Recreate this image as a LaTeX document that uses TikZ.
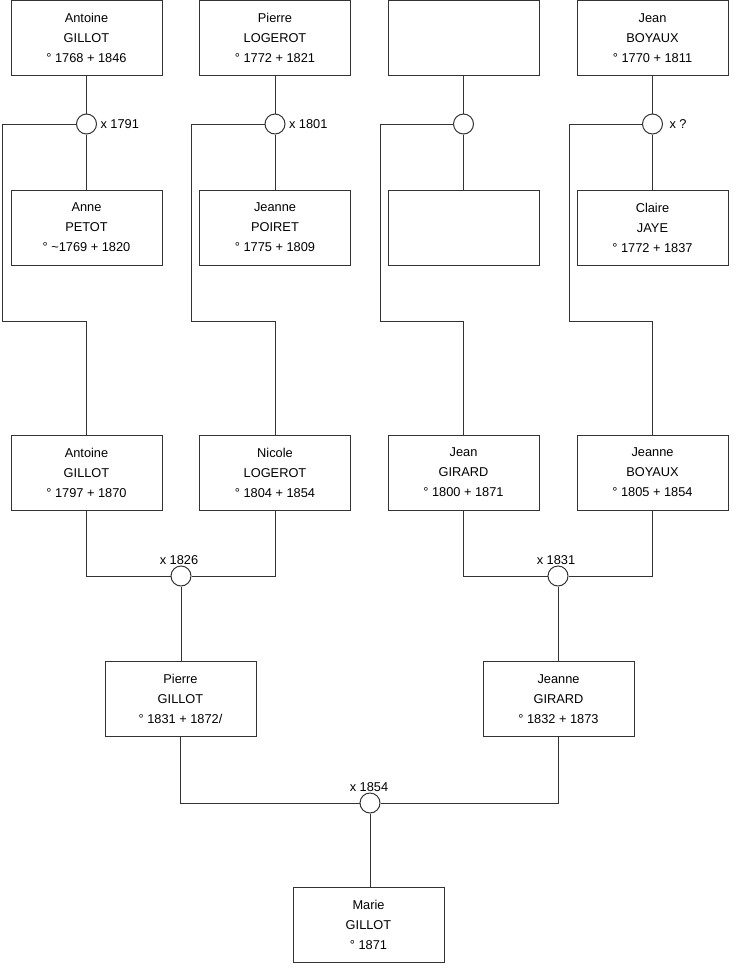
\documentclass[tikz,border=0pt]{standalone}
\usepackage{fontspec}
\setmainfont{Liberation Sans}
\usetikzlibrary{positioning,calc}
\definecolor{linegray}{HTML}{333333}

\tikzset{
  person/.style={draw=linegray, fill=white, rectangle, minimum width=151pt,
    minimum height=75pt, align=center, inner sep=0pt,
    font=\fontsize{12.8}{20}\selectfont},
  union/.style={draw=linegray, fill=white, circle, minimum size=20pt, inner sep=0pt},
  link/.style={draw=linegray, line width=1pt},
  datelabel/.style={font=\fontsize{12.8}{14}\selectfont, inner sep=1pt}
}

\begin{document}
\begin{tikzpicture}[x=1pt, y=-1pt, line width=1pt]
        \useasboundingbox (0,0) rectangle (740,975);

        % Great-grandparents
        \node[person] (ag) at (86.5,38) {Antoine\\GILLOT\\° 1768 + 1846};
        \node[person] (pl) at (275,38) {Pierre\\LOGEROT\\° 1772 + 1821};
        \node[person] (xx) at (463.5,38) {};
        \node[person] (jb) at (652.5,38) {Jean\\BOYAUX\\° 1770 + 1811};

        \node[person] (ap) at (86.5,227.5) {Anne\\PETOT\\° \textasciitilde1769 + 1820};
        \node[person] (jp) at (275,227.5) {Jeanne\\POIRET\\° 1775 + 1809};
        \node[person] (yy) at (463.5,227.5) {};
        \node[person] (cj) at (652.5,227.5) {Claire\\JAYE\\° 1772 + 1837};

        % Unions of the top couples
        \node[union] (u1) at (86.5,124) {};
        \node[union] (u2) at (275,124) {};
        \node[union] (u3) at (463.5,124) {};
        \node[union] (u4) at (652.5,124) {};
        \node[datelabel, anchor=west] (d1) at ($(u1.east)+(2,0)$) {x 1791};
        \node[datelabel, anchor=west] (d2) at ($(u2.east)+(2,0)$) {x 1801};
        \node[datelabel, anchor=west] (d4) at ($(u4.east)+(5,0)$) {x ?};

        % Grandparents
        \node[person] (agb) at (86.5,472.5) {Antoine\\GILLOT\\° 1797 + 1870};
        \node[person] (nl) at (275,472.5) {Nicole\\LOGEROT\\° 1804 + 1854};
        \node[person] (jg) at (463.5,472.5) {Jean\\GIRARD\\° 1800 + 1871};
        \node[person] (jnb) at (652.5,472.5) {Jeanne\\BOYAUX\\° 1805 + 1854};

        \node[union] (u5) at (181,576) {};
        \node[union] (u6) at (558,576) {};
        \node[datelabel, anchor=south] (d5) at ($(u5.north)+(-2,1)$) {x 1826};
        \node[datelabel, anchor=south] (d6) at ($(u6.north)+(-2,1)$) {x 1831};

        % Parents
        \node[person] (pg) at (180.5,699) {Pierre\\GILLOT\\° 1831 + 1872/};
        \node[person] (jng) at (558.5,699) {Jeanne\\GIRARD\\° 1832 + 1873};

        \node[union] (u7) at (370,803) {};
        \node[datelabel, anchor=south] (d7) at ($(u7.north)+(-1,1)$) {x 1854};

        \node[person] (mg) at (368.5,925) {Marie\\GILLOT\\° 1871};

        % Child links
        \coordinate (k1) at (2,321);
        \coordinate (k2) at (191,321);
        \coordinate (k3) at (380,321);
        \coordinate (k4) at (569,321);

        % Couple links
        \draw[link] (ag) -- (u1) -- (ap);
        \draw[link] (pl) -- (u2) -- (jp);
        \draw[link] (xx) -- (u3) -- (yy);
        \draw[link] (jb) -- (u4) -- (cj);

        \draw[link] (u1) -| (k1) -| (agb.north);
        \draw[link] (u2) -| (k2) -| (nl.north);
        \draw[link] (u3) -| (k3) -| (jg.north);
        \draw[link] (u4) -| (k4) -| (jnb.north);

        \draw[link] (agb.south) |- (u5);
        \draw[link] (nl.south) |- (u5);
        \draw[link] (jg.south) |- (u6);
        \draw[link] (jnb.south) |- (u6);
        \draw[link] (u5) -- (u5 |- pg.north);
        \draw[link] (u6) -- (u6 |- jng.north);

        \draw[link] (pg.south) |- (u7);
        \draw[link] (jng.south) |- (u7);
        \draw[link] (u7) -- (u7 |- mg.north);
\end{tikzpicture}
\end{document}
